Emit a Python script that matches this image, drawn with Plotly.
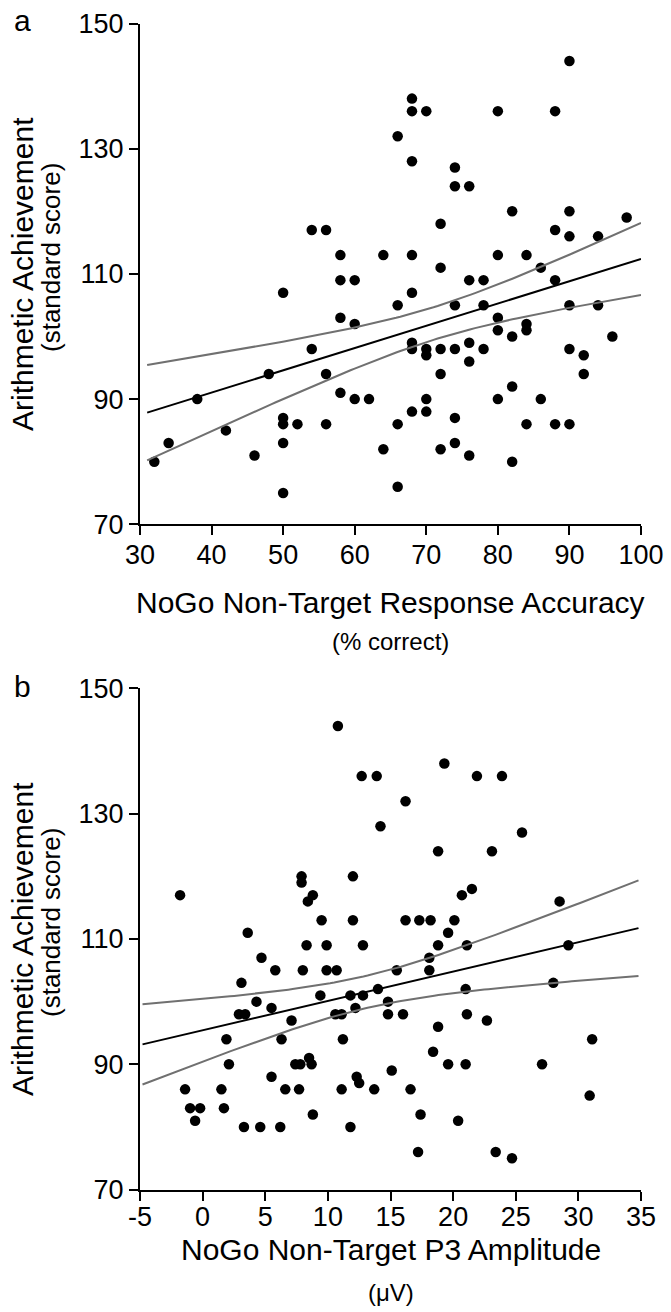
import numpy as np
import plotly.graph_objects as go

# ---------------- data: panel a ----------------
acc_x = [54, 56, 58, 58, 60, 90, 68, 68, 70, 80, 88, 66, 68, 74, 74, 76, 82, 90, 98, 72,
         88, 90, 94, 64, 68, 80, 84, 72, 86, 76, 78, 88,
         50, 58, 60, 54, 48, 56, 38, 58, 60, 62, 50, 50, 52, 56, 42, 34, 50, 46, 32, 50,
         68, 66, 74, 78, 90, 94, 80, 80, 84, 84, 82, 96, 68, 68, 70, 70, 72, 74, 76, 78,
         76, 90, 92, 92, 72, 82, 70, 80, 86, 68, 70, 74, 66, 84, 88, 90, 64, 72, 74, 76,
         82, 66]
acc_y = [117, 117, 113, 109, 109, 144, 138, 136, 136, 136, 136, 132, 128, 127, 124, 124, 120, 120, 119, 118,
         117, 116, 116, 113, 113, 113, 113, 111, 111, 109, 109, 109,
         107, 103, 102, 98, 94, 94, 90, 91, 90, 90, 87, 86, 86, 86, 85, 83, 83, 81, 80, 75,
         107, 105, 105, 105, 105, 105, 103, 101, 102, 101, 100, 100, 99, 98, 98, 97, 98, 98, 99, 98,
         96, 98, 97, 94, 94, 92, 90, 90, 90, 88, 88, 87, 86, 86, 86, 86, 82, 82, 83, 81,
         80, 76]

# ---------------- data: panel b ----------------
p3_x = [10.8, 12.7, 13.9, 14.2, 7.9, 7.9, 12.0, 8.8, 8.4, -1.8, 9.5, 12.0, 3.6, 19.3, 21.9, 23.9,
        16.2, 25.5, 18.8, 23.1, 21.5, 20.7, 28.5, 16.2, 17.3, 18.2, 20.1, 19.6, 8.3, 9.9, 12.8,
        4.7, 5.8, 8.0, 9.9, 10.7, 3.1, 9.4, 11.8, 12.8, 14.0, 14.8, 4.3, 5.5, 12.2, 2.9, 3.4,
        10.6, 11.1, 14.8, 7.1, 1.9, 6.3, 11.2, 2.1, 7.4, 7.8, 8.5, 8.7, 5.5, 12.3, 12.5, 15.1,
        -1.4, 1.5, 6.6, 7.7, 11.1, 13.7, -1.0, -0.2, 1.7, -0.6, 8.8, 3.3, 4.6, 6.2, 11.8,
        18.8, 21.1, 29.2, 18.1, 18.1, 15.5, 21.0, 28.0, 16.0, 21.1, 22.7, 18.8, 31.1, 18.4,
        19.6, 21.0, 27.1, 16.6, 30.9, 17.4, 20.4, 17.2, 23.4, 24.7]
p3_y = [144, 136, 136, 128, 120, 119, 120, 117, 116, 117, 113, 113, 111, 138, 136, 136,
        132, 127, 124, 124, 118, 117, 116, 113, 113, 113, 113, 111, 109, 109, 109,
        107, 105, 105, 105, 105, 103, 101, 101, 101, 102, 100, 100, 99, 99, 98, 98,
        98, 98, 98, 97, 94, 94, 94, 90, 90, 90, 91, 90, 88, 88, 87, 89,
        86, 86, 86, 86, 86, 86, 83, 83, 83, 81, 82, 80, 80, 80, 80,
        109, 109, 109, 107, 105, 105, 102, 103, 98, 98, 97, 96, 94, 92,
        90, 90, 90, 86, 85, 82, 81, 76, 76, 75]

# axis settings / labels
y_range = [70, 150]
y_ticks = [70, 90, 110, 130, 150]
xa_range = [30, 100]
xa_ticks = [30, 40, 50, 60, 70, 80, 90, 100]
xb_range = [-5, 35]
xb_ticks = [-5, 0, 5, 10, 15, 20, 25, 30, 35]
xb_ticktext = ["-5", "0", "5", "10", "15", "20", "25", "30", "35"]
fit_span_a = [31, 100]
fit_span_b = [-4.8, 34.8]
T_CRIT = 1.66


def fit_band(x, y, span):
    x = np.asarray(x, float)
    y = np.asarray(y, float)
    n = len(x)
    b1, b0 = np.polyfit(x, y, 1)
    resid = y - (b0 + b1 * x)
    s = np.sqrt(np.sum(resid ** 2) / (n - 2))
    xm = x.mean()
    sxx = np.sum((x - xm) ** 2)
    xs = np.linspace(span[0], span[1], 120)
    yh = b0 + b1 * xs
    se = s * np.sqrt(1.0 / n + (xs - xm) ** 2 / sxx)
    return xs, yh, yh - T_CRIT * se, yh + T_CRIT * se


W, H = 671, 1312
FONT = "Liberation Sans, Arial, sans-serif"
GRAY = "rgb(112,112,112)"


def px_x(sx):
    return sx / W


def px_y(sy):
    return 1 - sy / H


fig = go.Figure()

panels = [
    (acc_x, acc_y, fit_span_a, "x", "y"),
    (p3_x, p3_y, fit_span_b, "x2", "y2"),
]
for px_, py_, span, xa, ya in panels:
    xs, yh, lo, hi = fit_band(px_, py_, span)
    fig.add_trace(go.Scatter(x=px_, y=py_, mode="markers", xaxis=xa, yaxis=ya,
                             marker=dict(color="black", size=10.5), showlegend=False))
    fig.add_trace(go.Scatter(x=xs, y=hi, mode="lines", xaxis=xa, yaxis=ya,
                             line=dict(color=GRAY, width=2), showlegend=False))
    fig.add_trace(go.Scatter(x=xs, y=lo, mode="lines", xaxis=xa, yaxis=ya,
                             line=dict(color=GRAY, width=2), showlegend=False))
    fig.add_trace(go.Scatter(x=xs, y=yh, mode="lines", xaxis=xa, yaxis=ya,
                             line=dict(color="black", width=2), showlegend=False))

xdom = [px_x(140), px_x(641)]
ydom_a = [px_y(524.3), px_y(23.5)]
ydom_b = [px_y(1189.6), px_y(688.4)]

axis_common = dict(showline=True, linecolor="black", linewidth=2, ticks="outside",
                   ticklen=9, tickwidth=2, tickcolor="black", showgrid=False,
                   zeroline=False, automargin=False,
                   tickfont=dict(family=FONT, size=27, color="black"))

fig.update_layout(
    template="none",
    width=W, height=H, margin=dict(l=0, r=0, t=0, b=0, pad=0, autoexpand=False),
    plot_bgcolor="white", paper_bgcolor="white",
    xaxis=dict(domain=xdom, range=xa_range, tickvals=xa_ticks, anchor="y",
               ticklabelstandoff=-4, **axis_common),
    yaxis=dict(domain=ydom_a, range=y_range, tickvals=y_ticks, anchor="x", **axis_common),
    xaxis2=dict(domain=xdom, range=xb_range, tickvals=xb_ticks, ticktext=xb_ticktext,
                anchor="y2", ticklabelstandoff=-7, **axis_common),
    yaxis2=dict(domain=ydom_b, range=y_range, tickvals=y_ticks, anchor="x2", **axis_common),
)


def ann(text, x, y, size, angle=0):
    fig.add_annotation(text=text, x=px_x(x), y=px_y(y), xref="paper", yref="paper",
                       showarrow=False, textangle=angle, xanchor="center", yanchor="middle",
                       font=dict(family=FONT, size=size, color="black"))


# panel letters
ann("a", 22, 20.5, 30)
ann("b", 22, 686, 30)
# y titles
ann("Arithmetic Achievement", 22, 274, 30, -90)
ann("(standard score)", 51, 258, 26, -90)
ann("Arithmetic Achievement", 22, 939, 30, -90)
ann("(standard score)", 51, 923, 26, -90)
# x titles
ann("NoGo Non-Target Response Accuracy", 390.5, 602, 30)
ann("(% correct)", 390.5, 642, 24)
ann("NoGo Non-Target P3 Amplitude", 390.5, 1249, 30)
ann("(μV)", 390.5, 1292, 24)

# the page body has a default 8 px margin; remove it so the figure sits at the page origin
fig.write_html("out.html", config={"displayModeBar": False},
               post_script="document.body.style.margin='0px';")
